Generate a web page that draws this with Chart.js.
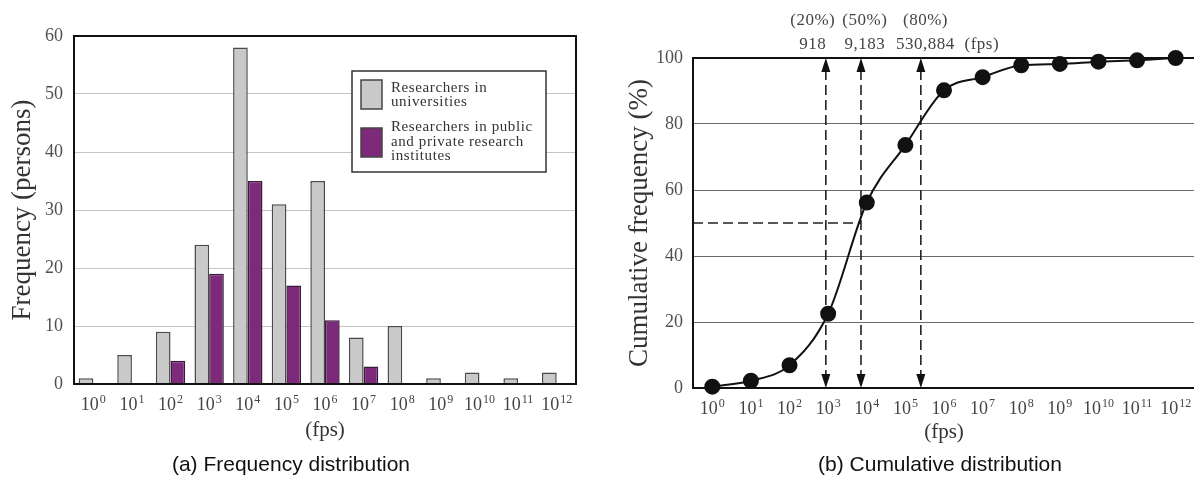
<!DOCTYPE html>
<html>
<head>
<meta charset="utf-8">
<script src="https://cdn.jsdelivr.net/npm/chart.js@4"></script>
<style>
  body { margin: 0; width: 1194px; height: 485px; overflow: hidden; background: #fff; position: relative; }
  .box { position: absolute; top: 0; height: 485px; width: 600px; }
  .caption { position: absolute; top: 452px; font-family: 'Liberation Sans', Arial, sans-serif; font-size: 21px; color: #111; text-align: center; width: 400px; }
</style>
</head>
<body>
<div class="box" style="left:0"><canvas id="freqChart"></canvas></div>
<div class="box" style="left:600px; width:604px"><canvas id="cumChart"></canvas></div>
<div class="caption" style="left:91px">(a) Frequency distribution</div>
<div class="caption" style="left:740px">(b) Cumulative distribution</div>
<script>
// data
const fpsExponents = ['0', '1', '2', '3', '4', '5', '6', '7', '8', '9', '10', '11', '12'];
const fpsLabels = fpsExponents.map(e => '10^' + e);
const universities = [1, 5, 9, 24, 58, 31, 35, 8, 10, 1, 2, 1, 2];
const institutes = [0, 0, 4, 19, 35, 17, 11, 3, 0, 0, 0, 0, 0];
const cumulative = [0.4, 2.2, 6.9, 22.5, 56.2, 73.6, 90.2, 94.2, 97.8, 98.2, 98.9, 99.3, 100];
const seriesNames = [['Researchers in', 'universities'], ['Researchers in public', 'and private research', 'institutes']];

// markers on the cumulative chart (x in decades)
const markPercents = ['(20%)', '(50%)', '(80%)'];
const markValues = ['918', '9,183', '530,884', '(fps)'];
const markArrowX = [2.94, 3.85, 5.4];
const markLabelX = [2.6, 3.95, 5.52, 6.98];

const SERIF = "'Liberation Serif', 'Times New Roman', serif";
Chart.defaults.font.family = SERIF;
Chart.defaults.animation = false;

const frame = {
  id: 'frame',
  afterDraw(chart) {
    const { ctx, chartArea: a } = chart;
    ctx.save();
    ctx.strokeStyle = '#111';
    ctx.lineWidth = 2;
    ctx.strokeRect(a.left, a.top, a.right - a.left, a.bottom - a.top);
    ctx.restore();
  }
};

// "10" with a raised exponent under each x tick
const expTicks = {
  id: 'expTicks',
  afterDraw(chart) {
    const { ctx, scales: { x } } = chart;
    const base = x.top + 26;
    ctx.save();
    ctx.fillStyle = '#444';
    ctx.textBaseline = 'alphabetic';
    ctx.textAlign = 'left';
    x.ticks.forEach((t, i) => {
      const px = x.getPixelForTick(i);
      const exp = fpsExponents[i];
      ctx.font = '18px ' + SERIF;
      const w1 = ctx.measureText('10').width;
      ctx.font = '12px ' + SERIF;
      const w2 = ctx.measureText(exp).width;
      const start = px - (w1 + w2 + 1) / 2;
      ctx.font = '18px ' + SERIF;
      ctx.fillText('10', start, base);
      ctx.font = '12px ' + SERIF;
      ctx.fillText(exp, start + w1 + 1, base - 7);
    });
    ctx.restore();
  }
};

const legendBox = {
  id: 'legendBox',
  afterDraw(chart) {
    const ctx = chart.ctx;
    ctx.save();
    ctx.fillStyle = '#fff';
    ctx.fillRect(352, 71, 194, 101);
    ctx.strokeStyle = '#333';
    ctx.lineWidth = 1.5;
    ctx.strokeRect(352, 71, 194, 101);
    const rows = [{ top: 80, lines: [88, 102] }, { top: 128, lines: [127, 142, 156] }];
    chart.data.datasets.forEach((ds, i) => {
      ctx.fillStyle = ds.backgroundColor;
      ctx.fillRect(361, rows[i].top, 21, 29);
      ctx.strokeStyle = '#444';
      ctx.lineWidth = 1.5;
      ctx.strokeRect(361, rows[i].top, 21, 29);
      ctx.fillStyle = '#333';
      ctx.font = '15px ' + SERIF;
      ctx.letterSpacing = '0.6px';
      ctx.textBaseline = 'middle';
      ctx.textAlign = 'left';
      seriesNames[i].forEach((t, j) => ctx.fillText(t, 391, rows[i].lines[j]));
    });
    ctx.restore();
  }
};

new Chart(document.getElementById('freqChart'), {
  type: 'bar',
  data: {
    labels: fpsLabels,
    datasets: [
      { label: seriesNames[0].join(' '), data: universities, backgroundColor: '#c9c9c9', borderColor: '#4a4a4a', borderWidth: 1.5 },
      { label: seriesNames[1].join(' '), data: institutes, backgroundColor: '#7d2a7b', borderColor: '#3a1a3a', borderWidth: 1.5 }
    ]
  },
  options: {
    responsive: true,
    maintainAspectRatio: false,
    layout: { padding: { top: 36, right: 24, left: 0, bottom: 0 } },
    plugins: { legend: { display: false }, tooltip: { enabled: false } },
    datasets: { bar: { barPercentage: 1, categoryPercentage: 0.76 } },
    scales: {
      x: {
        grid: { display: false, drawTicks: false },
        border: { display: false },
        ticks: { autoSkip: false, maxRotation: 0, callback: () => '' },
        title: { display: true, text: '(fps)', color: '#333', font: { size: 21 }, padding: { top: 0, bottom: 42 } },
        afterFit(s) { s.height = 101; }
      },
      y: {
        min: 0, max: 60,
        ticks: { stepSize: 10, color: '#505050', font: { size: 18 }, padding: 11 },
        grid: { drawTicks: false, color: c => (c.tick.value === 0 || c.tick.value === 60) ? 'transparent' : '#c4c4c4', lineWidth: 1 },
        border: { display: false },
        title: { display: true, text: 'Frequency (persons)', color: '#333', font: { size: 27 }, padding: { top: 7, bottom: 0 } },
        afterFit(s) { s.width = 74; }
      }
    }
  },
  plugins: [frame, legendBox, expTicks]
});

function arrowHead(ctx, x, tipY, dir) {
  ctx.beginPath();
  ctx.moveTo(x, tipY);
  ctx.lineTo(x - 4.5, tipY + dir * 14);
  ctx.lineTo(x + 4.5, tipY + dir * 14);
  ctx.closePath();
  ctx.fill();
}

const fpsMarks = {
  id: 'fpsMarks',
  beforeDatasetsDraw(chart) {
    const { ctx, chartArea: a, scales: { x, y } } = chart;
    const top = y.getPixelForValue(100), bot = y.getPixelForValue(0);
    ctx.save();
    ctx.strokeStyle = '#222';
    ctx.fillStyle = '#111';
    ctx.lineWidth = 1.6;
    ctx.setLineDash([10, 5]);
    markArrowX.forEach(v => {
      const px = x.getPixelForValue(v);
      ctx.beginPath();
      ctx.moveTo(px, top + 12);
      ctx.lineTo(px, bot - 12);
      ctx.stroke();
    });
    const y50 = y.getPixelForValue(50);
    ctx.beginPath();
    ctx.moveTo(a.left, y50);
    ctx.lineTo(x.getPixelForValue(markArrowX[1]), y50);
    ctx.stroke();
    ctx.setLineDash([]);
    markArrowX.forEach(v => {
      const px = x.getPixelForValue(v);
      arrowHead(ctx, px, top, 1);
      arrowHead(ctx, px, bot, -1);
    });
    ctx.restore();
  },
  afterDraw(chart) {
    const { ctx, scales: { x } } = chart;
    ctx.save();
    ctx.fillStyle = '#444';
    ctx.font = '17px ' + SERIF;
    ctx.letterSpacing = '0.5px';
    ctx.textAlign = 'center';
    ctx.textBaseline = 'middle';
    markPercents.forEach((t, i) => ctx.fillText(t, x.getPixelForValue(markLabelX[i]), 21));
    markValues.forEach((t, i) => ctx.fillText(t, x.getPixelForValue(markLabelX[i]), 45));
    ctx.restore();
  }
};

new Chart(document.getElementById('cumChart'), {
  type: 'line',
  data: {
    datasets: [{
      label: 'Cumulative frequency',
      data: cumulative.map((v, i) => ({ x: i, y: v })),
      borderColor: '#111',
      borderWidth: 2,
      pointRadius: 7,
      pointBackgroundColor: '#111',
      pointBorderColor: '#111',
      cubicInterpolationMode: 'monotone',
      clip: false
    }]
  },
  options: {
    responsive: true,
    maintainAspectRatio: false,
    layout: { padding: { top: 58, right: 1, left: 0, bottom: 0 } },
    plugins: { legend: { display: false }, tooltip: { enabled: false } },
    scales: {
      x: {
        type: 'linear',
        min: -0.5, max: 12.5,
        afterBuildTicks(s) { s.ticks = fpsLabels.map((_, i) => ({ value: i })); },
        grid: { display: false, drawTicks: false },
        border: { display: false },
        ticks: { autoSkip: false, maxRotation: 0, callback: () => '' },
        title: { display: true, text: '(fps)', color: '#333', font: { size: 21 }, padding: { top: 0, bottom: 40 } },
        afterFit(s) { s.height = 97; }
      },
      y: {
        min: 0, max: 100,
        ticks: { stepSize: 20, color: '#505050', font: { size: 18 }, padding: 10 },
        grid: { drawTicks: false, color: c => (c.tick.value === 0 || c.tick.value === 100) ? 'transparent' : '#6a6a6a', lineWidth: 1 },
        border: { display: false },
        title: { display: true, text: 'Cumulative frequency (%)', color: '#333', font: { size: 27 }, padding: { top: 24, bottom: 0 } },
        afterFit(s) { s.width = 93; }
      }
    }
  },
  plugins: [frame, fpsMarks, expTicks]
});
</script>
</body>
</html>
